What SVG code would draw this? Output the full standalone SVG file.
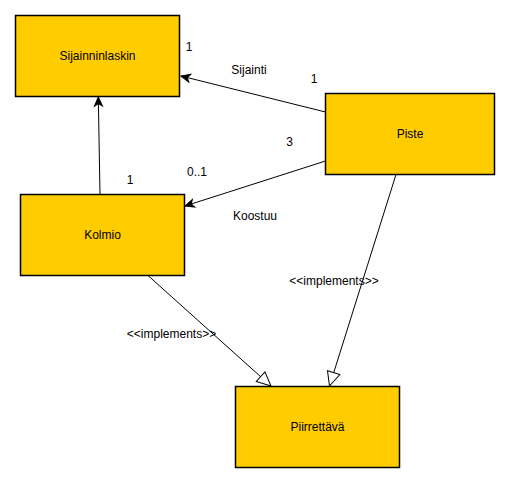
<svg xmlns="http://www.w3.org/2000/svg" width="509" height="482" viewBox="0 0 509 482">
  <style>
    .box { fill: #ffcc00; stroke: #000000; stroke-width: 1.5; }
    .name { font-family: "Liberation Sans", Arial, sans-serif; font-size: 12px; fill: #000000; text-anchor: middle; dominant-baseline: central; }
    .lbl { font-family: "Liberation Sans", Arial, sans-serif; font-size: 12px; fill: #000000; text-anchor: middle; dominant-baseline: central; }
    .edge { fill: none; stroke: #000000; stroke-width: 1; }
  </style>
  <defs>
    <marker id="arrow" markerUnits="userSpaceOnUse" viewBox="-10 -5 11 10" refX="0" refY="0" markerWidth="11" markerHeight="10" orient="auto" overflow="visible">
      <path d="M0,0 L-9,-4 L-6.5,0 L-9,4 Z" fill="#000000" stroke="#000000" stroke-width="1"/>
    </marker>
    <marker id="realize" markerUnits="userSpaceOnUse" viewBox="-15 -8 16 16" refX="0" refY="0" markerWidth="16" markerHeight="16" orient="auto" overflow="visible">
      <path d="M0,0 L-14,-6.5 L-14,6.5 Z" fill="#ffffff" stroke="#000000" stroke-width="1"/>
    </marker>
  </defs>

  <!-- connectors -->
  <g id="connectors">
    <path class="edge" d="M325.5,112 L181,76" marker-end="url(#arrow)"/>
    <path class="edge" d="M325.5,161 L185,206" marker-end="url(#arrow)"/>
    <path class="edge" d="M100,194.5 L98.3,97" marker-end="url(#arrow)"/>
    <path class="edge" d="M148,275.5 L271,386" marker-end="url(#realize)"/>
    <path class="edge" d="M396,174.5 L329.5,386" marker-end="url(#realize)"/>

    <text class="lbl" x="249" y="70">Sijainti</text>
    <text class="lbl" x="189" y="47">1</text>
    <text class="lbl" x="314" y="79">1</text>
    <text class="lbl" x="289.5" y="142">3</text>
    <text class="lbl" x="197" y="172">0..1</text>
    <text class="lbl" x="255" y="216">Koostuu</text>
    <text class="lbl" x="130" y="180">1</text>
    <text class="lbl" x="171.5" y="334">&lt;&lt;implements&gt;&gt;</text>
    <text class="lbl" x="334" y="281">&lt;&lt;implements&gt;&gt;</text>
  </g>

  <!-- classes -->
  <g id="sijainninlaskin">
    <rect class="box" x="15.5" y="15.5" width="164" height="81"/>
    <text class="name" x="97.5" y="56">Sijainninlaskin</text>
  </g>
  <g id="piste">
    <rect class="box" x="325.5" y="93.5" width="169" height="81"/>
    <text class="name" x="410" y="134">Piste</text>
  </g>
  <g id="kolmio">
    <rect class="box" x="20.5" y="194.5" width="164" height="81"/>
    <text class="name" x="102.5" y="235">Kolmio</text>
  </g>
  <g id="piirrettava">
    <rect class="box" x="235.5" y="386.5" width="164" height="81"/>
    <text class="name" x="317.5" y="427">Piirrettävä</text>
  </g>
</svg>
